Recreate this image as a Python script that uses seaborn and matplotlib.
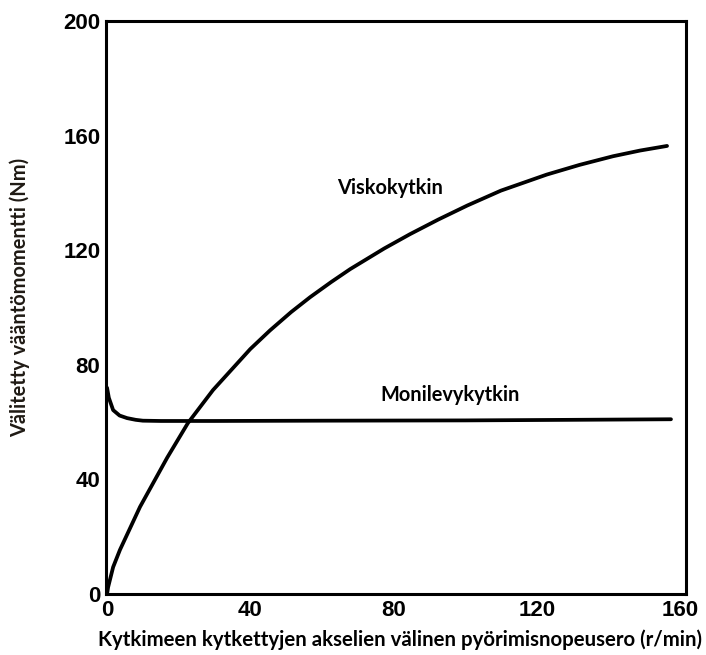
import pandas as pd
import seaborn as sns
from matplotlib import pyplot as plt

# Viskokytkin (viscous coupling) curve
visko_x = [0, 0.3, 1.7, 3.6, 9.2, 16.8, 22.6, 29.6, 40.0, 45.5, 51.4, 56.7, 62.6, 67.9,
           77.4, 84.6, 92.5, 100.6, 110.0, 122.8, 132.0, 141.3, 148.9, 156.4]
visko_y = [0, 2.4, 9.4, 15.4, 30.4, 47.6, 59.7, 71.2, 85.5, 92.0, 98.4, 103.6, 108.9, 113.4,
           120.6, 125.6, 130.7, 135.6, 140.8, 146.4, 149.8, 152.8, 154.8, 156.4]

# Monilevykytkin (multi-plate clutch) curve
moni_x = [0, 0.5, 1.7, 3.5, 5.6, 8.0, 10.0, 15.0, 30.0, 60.0, 100.0, 130.0, 157.5]
moni_y = [72.0, 68.5, 64.2, 62.3, 61.4, 60.8, 60.5, 60.4, 60.4, 60.5, 60.6, 60.8, 61.0]

x_ticks = [0, 40, 80, 120, 160]
y_ticks = [0, 40, 80, 120, 160, 200]

x_label = "Kytkimeen kytkettyjen akselien välinen pyörimisnopeusero (r/min)"
y_label = "Välitetty vääntömomentti (Nm)"

sns.set_theme(style="white")
plt.rcParams['font.family'] = ['Liberation Sans', 'DejaVu Sans']

visko_df = pd.DataFrame({"x": visko_x, "y": visko_y})
moni_df = pd.DataFrame({"x": moni_x, "y": moni_y})

fig = plt.figure(figsize=(7.06, 6.55), dpi=100)
ax = fig.add_axes([0.1501, 0.0931, 0.8216, 0.8748])

for df in (visko_df, moni_df):
    sns.lineplot(data=df, x="x", y="y", ax=ax, color="black", linewidth=2.7,
                 sort=False, estimator=None, clip_on=False,
                 solid_joinstyle="round", solid_capstyle="round")

ax.set_xlim(-0.3, 161.7)
ax.set_ylim(0, 200)
ax.set_xticks(x_ticks)
ax.set_yticks(y_ticks)
ax.tick_params(direction="in", length=4, width=1.5, color="black",
               labelcolor="black", labelsize=16, pad=4)
for lab in ax.get_xticklabels() + ax.get_yticklabels():
    lab.set_fontweight("bold")

for spine in ax.spines.values():
    spine.set_color("black")
    spine.set_linewidth(2.2)

ax.set_xlabel("")
ax.set_ylabel("")

ax.text(79, 141.7, "Viskokytkin", ha="center", va="center", fontsize=14.4,
        fontweight="bold", family="Lato", color="black")
ax.text(95.8, 69.5, "Monilevykytkin", ha="center", va="center", fontsize=14.4,
        fontweight="bold", family="Lato", color="black")

fig.text(400 / 706, 1 - 640 / 655, x_label, ha="center", va="center",
         fontsize=14.7, fontweight="bold", family="Lato", color="black")
fig.text(20 / 706, 1 - 297 / 655, y_label, ha="center", va="center",
         rotation=90, fontsize=14.4, fontweight="bold", family="Lato", color="#1f1a14")

fig.savefig("out.png", dpi=100)
